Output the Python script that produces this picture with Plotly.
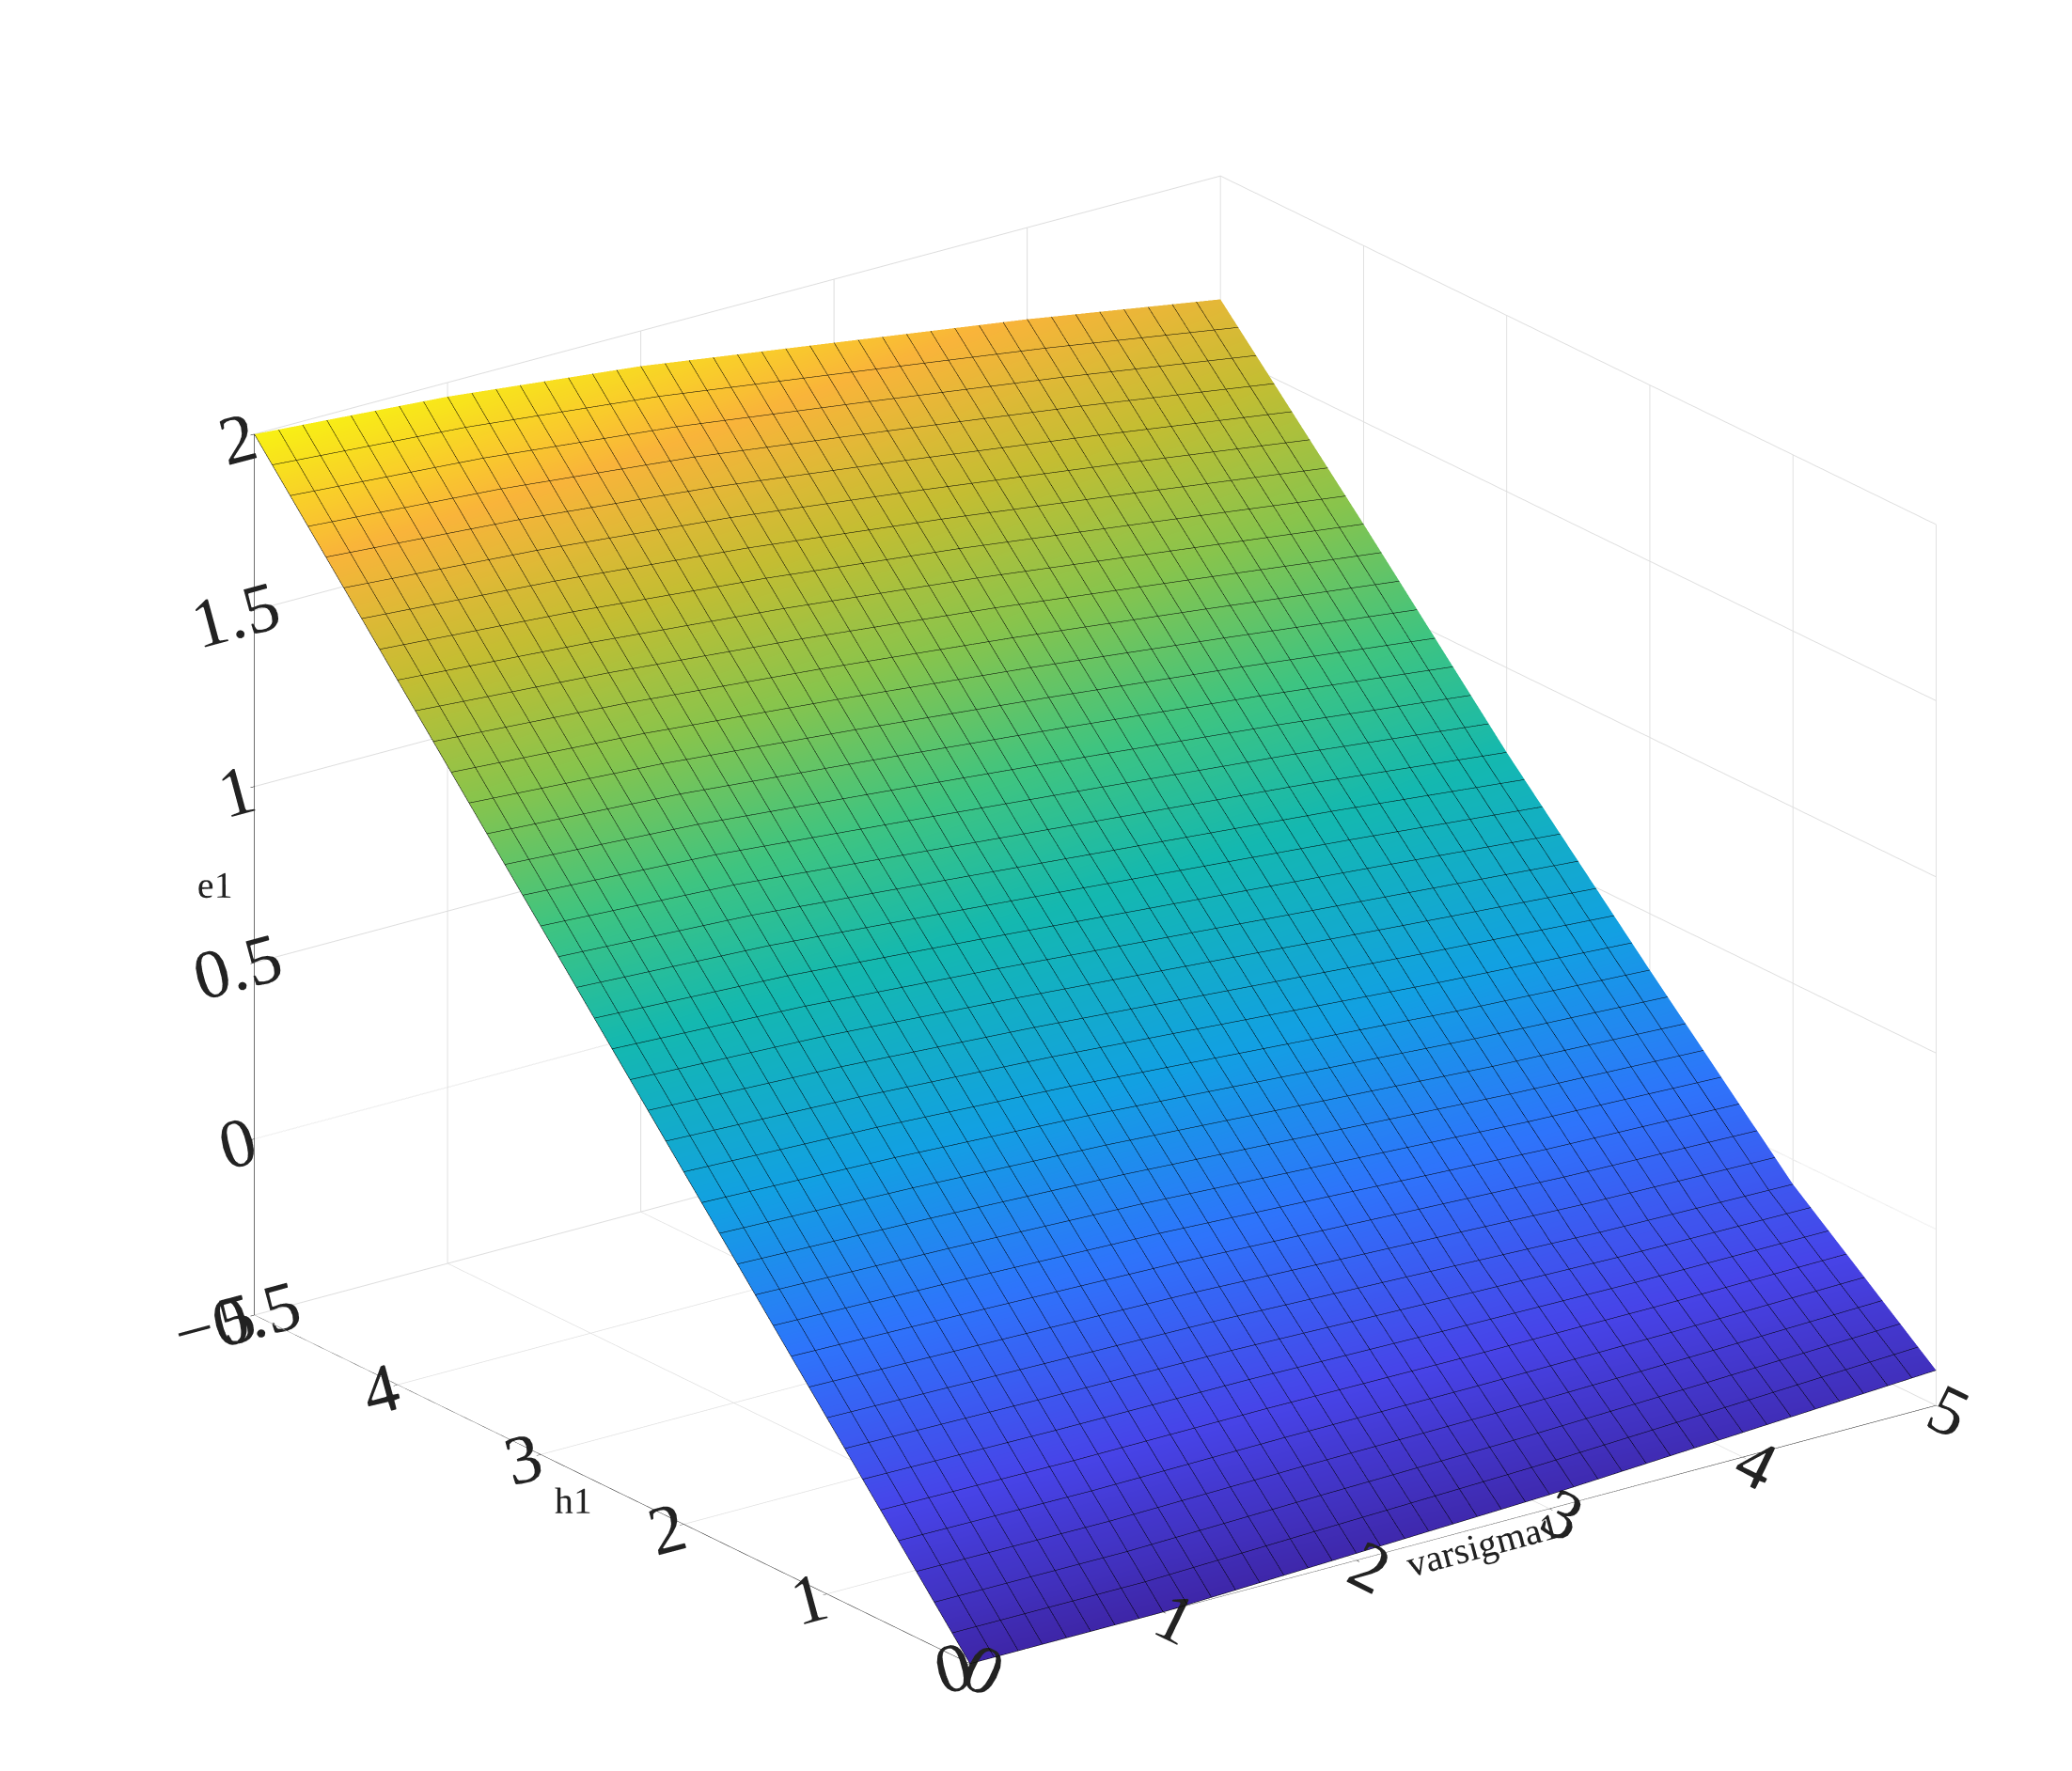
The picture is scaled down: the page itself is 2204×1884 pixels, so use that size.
import plotly.graph_objects as go

varsigma1 = [0, 1, 2, 3, 4, 5]
h1 = [0, 1, 2, 3, 4, 5]
# e1[i][j]: row i = h1, col j = varsigma1
e1 = [
    [-0.50, -0.50, -0.48, -0.46, -0.43, -0.40],
    [0.00, -0.01, -0.02, -0.04, -0.06, -0.07],
    [0.50, 0.48, 0.45, 0.41, 0.37, 0.34],
    [1.00, 0.97, 0.92, 0.87, 0.82, 0.76],
    [1.50, 1.46, 1.41, 1.35, 1.28, 1.21],
    [2.00, 1.96, 1.90, 1.82, 1.74, 1.65],
]
parula = [[0, "#3e26a8"], [0.12, "#4744e8"], [0.25, "#2e74fb"], [0.37, "#12a0e2"],
          [0.5, "#14b8b0"], [0.6, "#3fc480"], [0.7, "#88c44c"], [0.8, "#c4bd32"],
          [0.9, "#f9b43a"], [1, "#f8f014"]]

fig = go.Figure(go.Surface(
    x=varsigma1, y=h1, z=e1, colorscale=parula, showscale=False,
    cmin=-0.5, cmax=2.0,
    lighting=dict(ambient=0.95, diffuse=0.1, specular=0.0),
    contours=dict(
        x=dict(show=True, start=0, end=5, size=5/40, color="black", width=4),
        y=dict(show=True, start=0, end=5, size=5/40, color="black", width=4),
    ),
))
tf = dict(family="Liberation Serif", size=30, color="#222")
ttf = dict(family="Liberation Serif", size=40, color="#222")
ax = dict(showbackground=False, gridcolor="#dddddd", linecolor="black", showline=True,
          ticks="outside", tickcolor="black", tickfont=tf)
fig.update_layout(
    width=2204, height=1884, paper_bgcolor="white", margin=dict(l=0, r=0, t=0, b=0),
    font=dict(family="Liberation Serif"),
    scene=dict(
        domain=dict(x=[0.05, 1.0], y=[0.0, 0.97]),
        xaxis=dict(ax, title=dict(text="varsigma1", font=ttf), range=[0, 5], dtick=1),
        yaxis=dict(ax, title=dict(text="h1", font=ttf), range=[0, 5], dtick=1),
        zaxis=dict(ax, title=dict(text="e1", font=ttf), range=[-0.5, 2], dtick=0.5),
        aspectmode="manual", aspectratio=dict(x=1.4, y=1.4, z=1.1),
        camera=dict(eye=dict(x=-1.0, y=-1.35, z=0.65), projection=dict(type="orthographic")),
    ),
)
fig.write_html("out.html")
